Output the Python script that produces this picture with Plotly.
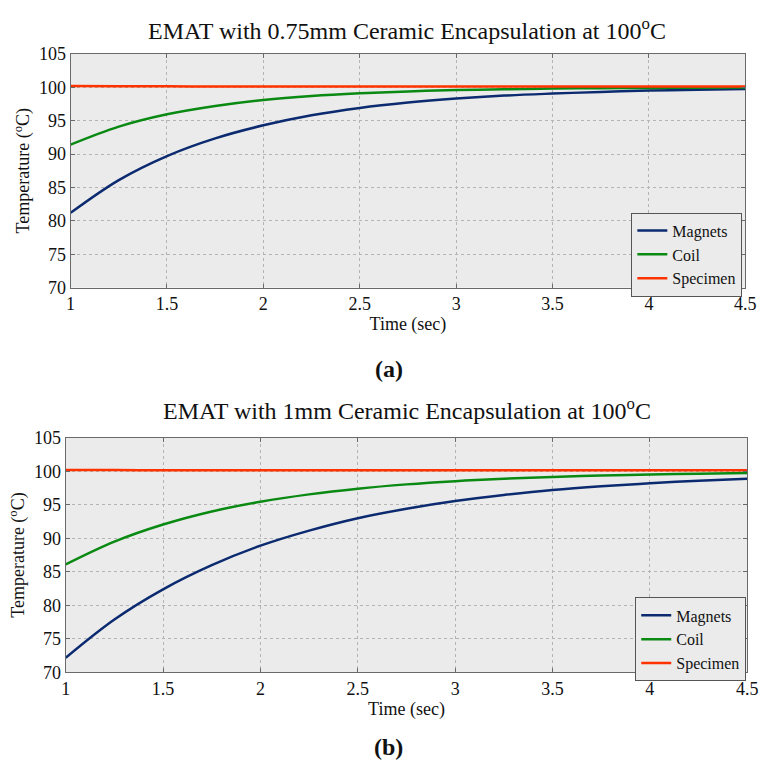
import plotly.graph_objects as go

# ---- data ----
time = [1.0, 1.25, 1.5, 1.75, 2.0, 2.25, 2.5, 2.75, 3.0, 3.25, 3.5, 3.75, 4.0, 4.25, 4.5]

# (a) 0.75 mm encapsulation
a_magnets = [81.2, 86.1, 89.7, 92.35, 94.3, 95.8, 96.9, 97.7, 98.3, 98.75, 99.05, 99.3, 99.5, 99.62, 99.72]
a_coil = [91.4, 94.1, 95.95, 97.2, 98.1, 98.7, 99.1, 99.38, 99.57, 99.7, 99.8, 99.86, 99.9, 99.93, 99.95]
a_specimen = [100.2, 100.15, 100.13, 100.12, 100.12, 100.11, 100.11, 100.1, 100.1, 100.1, 100.1, 100.1, 100.1, 100.1, 100.1]

# (b) 1 mm encapsulation
b_magnets = [72.2, 77.9, 82.4, 86.0, 88.9, 91.15, 93.0, 94.4, 95.55, 96.45, 97.2, 97.76, 98.2, 98.58, 98.87]
b_coil = [86.1, 89.5, 92.05, 94.0, 95.45, 96.55, 97.4, 98.04, 98.52, 98.88, 99.15, 99.36, 99.52, 99.64, 99.72]
b_specimen = [100.2, 100.17, 100.16, 100.15, 100.15, 100.15, 100.15, 100.15, 100.15, 100.15, 100.15, 100.15, 100.15, 100.15, 100.15]

x_ticks = [1, 1.5, 2, 2.5, 3, 3.5, 4, 4.5]
x_ticklabels = ["1", "1.5", "2", "2.5", "3", "3.5", "4", "4.5"]
y_ticks = [70, 75, 80, 85, 90, 95, 100, 105]

series_names = ["Magnets", "Coil", "Specimen"]
colors = ["#0B2A6F", "#0A8A12", "#FF3300"]

W, H = 769, 776
FONT = "Liberation Serif"

fig = go.Figure()

panels = [
    (a_magnets, a_coil, a_specimen, "x", "y", "legend"),
    (b_magnets, b_coil, b_specimen, "x2", "y2", "legend2"),
]
for mags, coil, spec, xa, ya, leg in panels:
    for name, vals, col in zip(series_names, [mags, coil, spec], colors):
        fig.add_trace(go.Scatter(
            x=time, y=vals, name=name, mode="lines",
            line=dict(color=col, width=2.5, shape="spline"),
            xaxis=xa, yaxis=ya, legend=leg, showlegend=True,
        ))

def px_x(p):
    return p / W

def px_y(p):
    return 1 - p / H

axis_common = dict(
    showline=True, linecolor="#6a6a6a", linewidth=1, mirror="ticks",
    ticks="inside", ticklen=4, tickcolor="#6a6a6a",
    showgrid=True, gridcolor="#b4b4b4", griddash="dot", gridwidth=1,
    zeroline=False, tickfont=dict(family=FONT, size=18, color="#111"),
)

title_font = dict(family=FONT, size=18, color="#111")
legend_font = dict(family=FONT, size=16, color="#111")

fig.update_layout(
    width=W, height=H,
    margin=dict(l=0, r=0, t=0, b=0),
    paper_bgcolor="white", plot_bgcolor="#EBEBEB",
    font=dict(family=FONT, color="#111"),
    xaxis=dict(domain=[px_x(67), px_x(756)], range=[1, 4.5], tickvals=x_ticks,
               ticktext=x_ticklabels, anchor="y",
               title=dict(text="Time (sec)", font=title_font, standoff=0),
               **axis_common),
    yaxis=dict(domain=[px_y(285), px_y(45)], range=[70, 105], tickvals=y_ticks, anchor="x",
               title=dict(text="Temperature (<sup>o</sup>C)", font=title_font, standoff=4),
               **axis_common),
    xaxis2=dict(domain=[px_x(62), px_x(758)], range=[1, 4.5], tickvals=x_ticks,
                ticktext=x_ticklabels, anchor="y2",
                title=dict(text="Time (sec)", font=title_font, standoff=0),
                **axis_common),
    yaxis2=dict(domain=[px_y(680), px_y(439)], range=[70, 105], tickvals=y_ticks, anchor="x2",
                title=dict(text="Temperature (<sup>o</sup>C)", font=title_font, standoff=4),
                **axis_common),
    legend=dict(x=px_x(753), y=px_y(208), xanchor="right", yanchor="top",
                bgcolor="#EBEBEB", bordercolor="#555", borderwidth=1,
                font=legend_font, tracegroupgap=0, itemwidth=30),
    legend2=dict(x=px_x(757), y=px_y(603), xanchor="right", yanchor="top",
                 bgcolor="#EBEBEB", bordercolor="#555", borderwidth=1,
                 font=legend_font, tracegroupgap=0, itemwidth=30),
    annotations=[
        dict(text="EMAT with 0.75mm Ceramic Encapsulation at 100<sup>o</sup>C",
             x=px_x(411), y=px_y(20), xref="paper", yref="paper", showarrow=False,
             font=dict(family=FONT, size=24, color="#111"), xanchor="center", yanchor="middle"),
        dict(text="EMAT with 1mm Ceramic Encapsulation at 100<sup>o</sup>C",
             x=px_x(411), y=px_y(410), xref="paper", yref="paper", showarrow=False,
             font=dict(family=FONT, size=24, color="#111"), xanchor="center", yanchor="middle"),
        dict(text="<b>(a)</b>", x=px_x(392), y=px_y(368), xref="paper", yref="paper",
             showarrow=False, font=dict(family=FONT, size=24, color="#111"),
             xanchor="center", yanchor="middle"),
        dict(text="<b>(b)</b>", x=px_x(392), y=px_y(757), xref="paper", yref="paper",
             showarrow=False, font=dict(family=FONT, size=24, color="#111"),
             xanchor="center", yanchor="middle"),
    ],
)

fig.write_html("out.html")
